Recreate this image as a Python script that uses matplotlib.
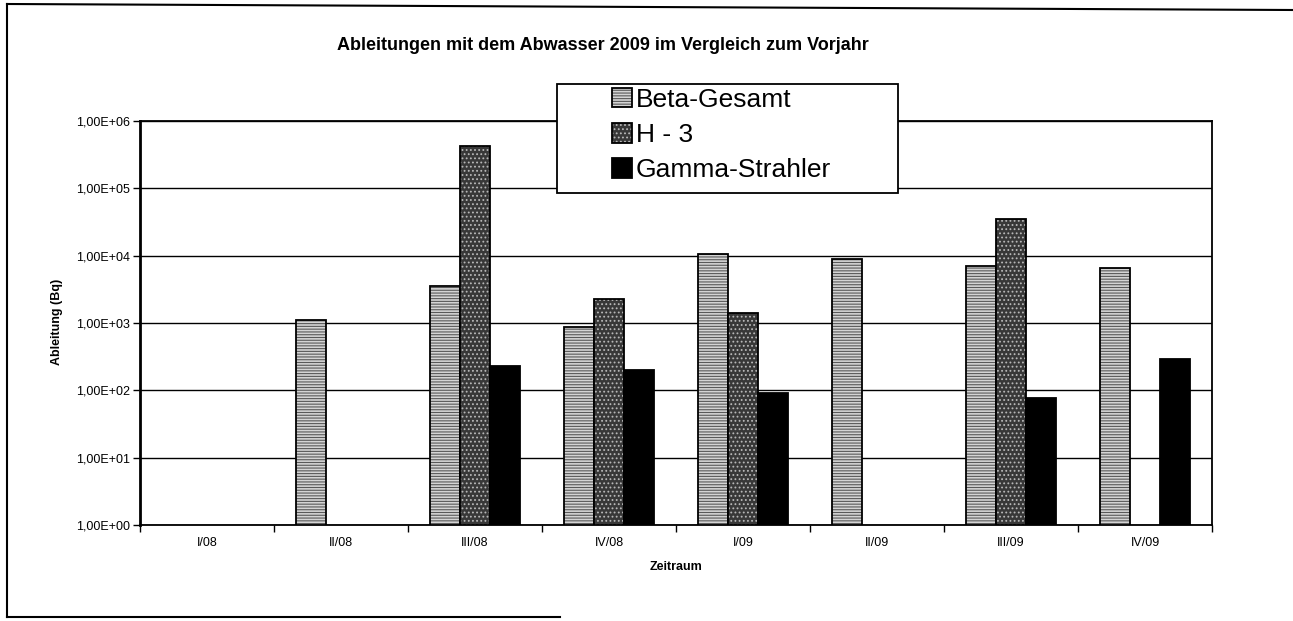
import numpy as np
import matplotlib
matplotlib.use("Agg")
import matplotlib.pyplot as plt
from matplotlib.lines import Line2D
from matplotlib.patches import Rectangle
from matplotlib.ticker import FuncFormatter, FixedLocator

# ── Daten (Bq je Quartal) ──
quartale = ["I/08", "II/08", "III/08", "IV/08", "I/09", "II/09", "III/09", "IV/09"]
beta_gesamt = [np.nan, 1.1e3, 3.5e3, 8.7e2, 1.05e4, 8.9e3, 7.1e3, 6.5e3]
h3 = [np.nan, np.nan, 4.3e5, 2.3e3, 1.4e3, np.nan, 3.5e4, np.nan]
gamma = [np.nan, np.nan, 2.3e2, 2.0e2, 9.1e1, np.nan, 7.6e1, 2.9e2]
serien = ["Beta-Gesamt", "H - 3", "Gamma-Strahler"]

plt.rcParams["font.family"] = ["Liberation Sans", "DejaVu Sans"]
plt.rcParams["hatch.linewidth"] = 0.8

W, H = 1293, 621
fig = plt.figure(figsize=(W / 100, H / 100), dpi=100)
ax = fig.add_axes([140 / W, 1 - 525 / H, (1212 - 140) / W, (525 - 121) / H])

x = np.arange(len(quartale))
bw = 0.224
b1 = ax.bar(x - bw, beta_gesamt, bw, bottom=1, facecolor="#d4d4d4", edgecolor="black",
            hatch="------", linewidth=1.3, label=serien[0], zorder=3)
b2 = ax.bar(x, h3, bw, bottom=1, facecolor="#383838", edgecolor="black",
            hatch="....", linewidth=1.3, label=serien[1], zorder=3)
b3 = ax.bar(x + bw, gamma, bw, bottom=1, facecolor="black", edgecolor="black",
            linewidth=1.3, label=serien[2], zorder=3)
# Schraffur-Farbe (privates Attribut, reicht hier)
for p in b1.patches:
    p._hatch_color = (0.35, 0.35, 0.35, 1.0)
for p in b2.patches:
    p._hatch_color = (0.72, 0.72, 0.72, 1.0)

ax.set_yscale("log")
ax.set_ylim(1, 1e6)
ax.set_xlim(-0.5, len(quartale) - 0.5)
ax.yaxis.set_major_locator(FixedLocator([10.0 ** k for k in range(7)]))
ax.yaxis.set_minor_locator(FixedLocator([]))
ax.yaxis.set_major_formatter(FuncFormatter(lambda v, _: ("%.2E" % v).replace(".", ",")))
ax.grid(axis="y", color="black", linewidth=1.0, zorder=0)

ax.set_xticks(x)
ax.set_xticklabels(quartale, fontsize=9)
ax.tick_params(axis="x", which="major", length=0, pad=9)
ax.set_xticks(np.arange(-0.5, len(quartale) + 0.5, 1), minor=True)
ax.tick_params(axis="x", which="minor", length=5, width=1, direction="out")
ax.tick_params(axis="y", labelsize=9, length=5, width=1, pad=2)

for s in ax.spines.values():
    s.set_linewidth(1.3)
    s.set_color("black")
ax.spines["left"].set_linewidth(2)

ax.set_xlabel("Zeitraum", fontsize=9, fontweight="bold", labelpad=8)
fig.text(57 / W, 1 - 322 / H, "Ableitung (Bq)", rotation=90, ha="center", va="center",
         fontsize=9, fontweight="bold")

fig.text(337 / W, 1 - 46 / H, "Ableitungen mit dem Abwasser 2009 im Vergleich zum Vorjahr",
         ha="left", va="center", fontsize=13, fontweight="bold")

# ── Legende: eigener Rahmen, Inhalt eingerückt ──
fig.add_artist(Rectangle((557 / W, 1 - 193 / H), 341 / W, 109 / H, transform=fig.transFigure,
                         facecolor="white", edgecolor="black", linewidth=1.3, zorder=2))
leg = fig.legend([b1, b2, b3], serien, loc="upper left", bbox_to_anchor=(612 / W, 1 - 88 / H),
                 fontsize=19, frameon=False, borderpad=0, borderaxespad=0,
                 labelspacing=0.42, handlelength=0.75, handleheight=0.75, handletextpad=0.15)
leg.set_zorder(3)

# äußerer Rahmen
for xs, ys in [([7, 1293], [4, 10]), ([7, 7], [4, 617]), ([7, 560], [617, 617])]:
    fig.add_artist(Line2D(np.array(xs) / W, 1 - np.array(ys) / H,
                          transform=fig.transFigure, color="black", linewidth=1.5))

fig.savefig("out.png", dpi=100, facecolor="white")
